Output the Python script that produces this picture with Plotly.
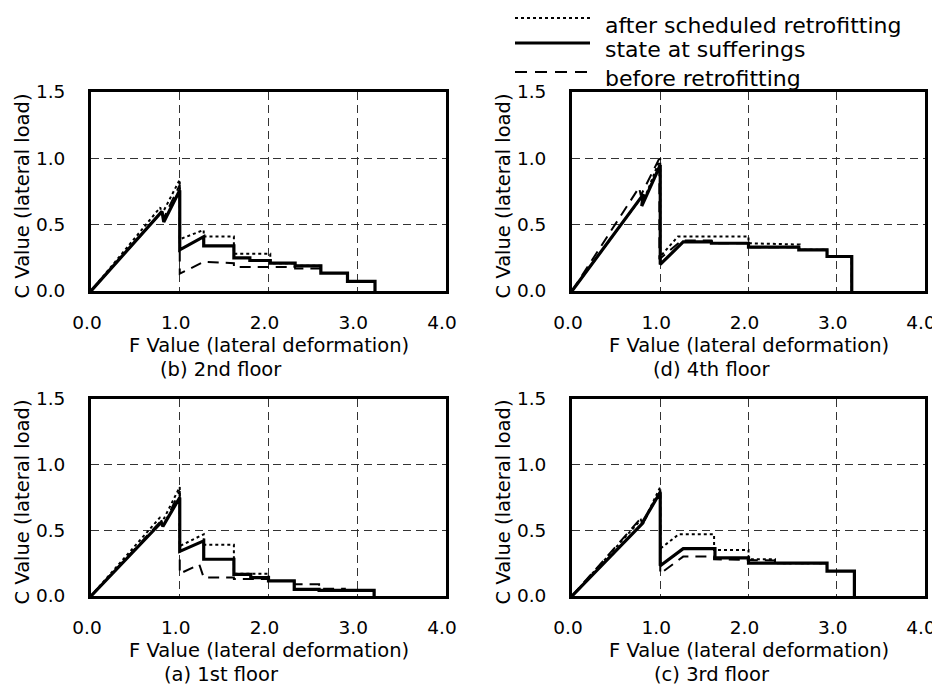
import plotly.graph_objects as go

# ---------------- data (F value, C value) ----------------
series_names = ["after scheduled retrofitting", "state at sufferings", "before retrofitting"]
panel_titles = ["(b) 2nd floor", "(d) 4th floor", "(a) 1st floor", "(c) 3rd floor"]
x_ticks = [0, 1, 2, 3, 4]
x_tick_labels = ["0.0", "1.0", "2.0", "3.0", "4.0"]
y_ticks = [0, 0.5, 1.0, 1.5]
y_tick_labels = ["0.0", "0.5", "1.0", "1.5"]

# (b) 2nd floor
f2_after_x = [0, 0.78, 0.80, 1.0, 1.0, 1.27, 1.27, 1.61, 1.61, 2.02, 2.02, 2.30, 2.30, 2.59, 2.59, 2.89, 2.89, 3.20, 3.20]
f2_after_y = [0, 0.63, 0.58, 0.84, 0.39, 0.46, 0.41, 0.41, 0.28, 0.28, 0.21, 0.21, 0.19, 0.19, 0.135, 0.135, 0.073, 0.073, 0]
f2_state_x = [0, 0.80, 0.82, 1.0, 1.0, 1.27, 1.27, 1.61, 1.61, 1.79, 1.79, 2.02, 2.02, 2.30, 2.30, 2.59, 2.59, 2.89, 2.89, 3.20, 3.20]
f2_state_y = [0, 0.60, 0.52, 0.76, 0.31, 0.41, 0.34, 0.34, 0.25, 0.25, 0.23, 0.23, 0.21, 0.21, 0.19, 0.19, 0.135, 0.135, 0.073, 0.073, 0]
f2_before_x = [0, 0.80, 0.82, 1.0, 1.0, 1.27, 1.61, 1.61, 2.30, 2.30, 2.59, 2.59, 2.89, 2.89, 3.20, 3.20]
f2_before_y = [0, 0.60, 0.55, 0.80, 0.13, 0.22, 0.21, 0.18, 0.18, 0.17, 0.17, 0.135, 0.135, 0.073, 0.073, 0]

# (d) 4th floor
f4_after_x = [0, 0.78, 0.80, 1.0, 1.0, 1.20, 2.0, 2.0, 2.58, 2.58, 2.89, 2.89, 3.17, 3.17]
f4_after_y = [0, 0.70, 0.66, 1.0, 0.26, 0.41, 0.41, 0.36, 0.35, 0.31, 0.31, 0.26, 0.26, 0]
f4_state_x = [0, 0.81, 0.79, 1.0, 1.0, 1.26, 1.58, 1.58, 2.0, 2.0, 2.57, 2.57, 2.89, 2.89, 3.17, 3.17]
f4_state_y = [0, 0.73, 0.64, 0.95, 0.20, 0.37, 0.37, 0.36, 0.36, 0.33, 0.33, 0.31, 0.31, 0.26, 0.26, 0]
f4_before_x = [0, 0.76, 0.78, 0.99, 0.99, 1.24, 1.58, 1.58, 2.0, 2.0, 2.58, 2.58, 2.89, 2.89, 3.17, 3.17]
f4_before_y = [0, 0.78, 0.72, 1.0, 0.24, 0.38, 0.38, 0.36, 0.36, 0.33, 0.33, 0.31, 0.31, 0.26, 0.26, 0]

# (a) 1st floor
f1_after_x = [0, 0.78, 0.80, 1.0, 1.0, 1.27, 1.27, 1.61, 1.61, 2.0, 2.0, 2.29, 2.29, 2.57, 2.57, 3.19, 3.19]
f1_after_y = [0, 0.60, 0.56, 0.83, 0.38, 0.47, 0.39, 0.39, 0.17, 0.17, 0.115, 0.115, 0.05, 0.05, 0.043, 0.043, 0]
f1_state_x = [0, 0.79, 0.81, 1.0, 1.0, 1.27, 1.27, 1.61, 1.61, 1.80, 1.80, 2.0, 2.0, 2.29, 2.29, 2.57, 2.57, 3.19, 3.19]
f1_state_y = [0, 0.56, 0.53, 0.75, 0.34, 0.42, 0.28, 0.28, 0.165, 0.165, 0.14, 0.14, 0.115, 0.115, 0.05, 0.05, 0.043, 0.043, 0]
f1_before_x = [0, 0.80, 0.82, 1.0, 1.0, 1.22, 1.27, 1.61, 1.61, 2.0, 2.0, 2.29, 2.29, 2.57, 2.57, 2.86, 2.86, 3.19, 3.19]
f1_before_y = [0, 0.58, 0.54, 0.80, 0.17, 0.24, 0.14, 0.14, 0.13, 0.13, 0.115, 0.115, 0.09, 0.09, 0.056, 0.056, 0.043, 0.043, 0]

# (c) 3rd floor
f3_after_x = [0, 0.78, 0.80, 1.0, 1.0, 1.21, 1.61, 1.61, 2.0, 2.0, 2.30, 2.30, 2.89, 2.89, 3.20, 3.20]
f3_after_y = [0, 0.58, 0.55, 0.83, 0.36, 0.47, 0.47, 0.35, 0.35, 0.28, 0.28, 0.25, 0.25, 0.19, 0.19, 0]
f3_state_x = [0, 0.81, 0.79, 1.0, 1.0, 1.26, 1.62, 1.62, 2.0, 2.0, 2.89, 2.89, 3.20, 3.20]
f3_state_y = [0, 0.56, 0.55, 0.79, 0.23, 0.36, 0.36, 0.29, 0.29, 0.25, 0.25, 0.19, 0.19, 0]
f3_before_x = [0, 0.79, 0.81, 1.0, 1.0, 1.26, 1.61, 1.61, 2.30, 2.30, 2.89, 2.89, 3.20, 3.20]
f3_before_y = [0, 0.60, 0.56, 0.80, 0.17, 0.30, 0.30, 0.28, 0.27, 0.25, 0.25, 0.19, 0.19, 0]

panels = [
    (f2_after_x, f2_after_y, f2_state_x, f2_state_y, f2_before_x, f2_before_y),
    (f4_after_x, f4_after_y, f4_state_x, f4_state_y, f4_before_x, f4_before_y),
    (f1_after_x, f1_after_y, f1_state_x, f1_state_y, f1_before_x, f1_before_y),
    (f3_after_x, f3_after_y, f3_state_x, f3_state_y, f3_before_x, f3_before_y),
]

# page body has an 8px default margin: size the figure so it fills the window
OFF = 8
W, H = 940 - OFF, 692 - OFF
FONT = "DejaVu Sans"
FS = 19.5
TICK_FS = 18.5

# panel boxes in window pixels: (left, right, top, bottom)
boxes = [(91, 446, 92, 291), (572, 925, 92, 291), (91, 446, 399, 596), (572, 925, 399, 596)]

def px(x):
    return (x - OFF) / W

def py(y):
    return 1 - (y - OFF) / H

styles = [
    dict(color="black", width=2, dash="3px,3px"),
    dict(color="black", width=3.2, dash="solid"),
    dict(color="black", width=2, dash="11px,7px"),
]

fig = go.Figure()
for i, p in enumerate(panels):
    xa = "x" if i == 0 else f"x{i+1}"
    ya = "y" if i == 0 else f"y{i+1}"
    for k in [0, 2, 1]:
        fig.add_trace(go.Scatter(
            x=p[2 * k], y=p[2 * k + 1], mode="lines", name=series_names[k],
            line=styles[k], xaxis=xa, yaxis=ya, showlegend=False,
            hoverinfo="skip"))

layout = dict(
    width=W, height=H, margin=dict(l=0, r=0, t=0, b=0, autoexpand=False),
    paper_bgcolor="white", plot_bgcolor="white",
    font=dict(family=FONT, size=FS, color="black"),
    showlegend=False,
)
annotations = []
shapes = []
for i, (l, r, t, b) in enumerate(boxes):
    sx = "" if i == 0 else str(i + 1)
    layout[f"xaxis{sx}"] = dict(
        domain=[px(l), px(r)], anchor=f"y{sx}", range=[0, 4], fixedrange=True,
        automargin=False,
        tickvals=x_ticks, ticktext=x_tick_labels, ticks="", ticklabelstandoff=13,
        ticklabelshift=-4,
        showline=True, linewidth=3, linecolor="black", mirror=True,
        showgrid=True, gridcolor="#333333", gridwidth=1, griddash="8px,5px",
        zeroline=False, tickfont=dict(family=FONT, size=TICK_FS, color="black"))
    layout[f"yaxis{sx}"] = dict(
        domain=[py(b), py(t)], anchor=f"x{sx}", range=[0, 1.5], fixedrange=True,
        automargin=False,
        tickvals=y_ticks, ticktext=y_tick_labels, ticks="", ticklabelstandoff=19,
        showline=True, linewidth=3, linecolor="black", mirror=True,
        showgrid=True, gridcolor="#333333", gridwidth=1, griddash="8px,5px",
        zeroline=False, tickfont=dict(family=FONT, size=TICK_FS, color="black"))
    # x-axis title
    annotations.append(dict(text="F Value (lateral deformation)", xref="paper", yref="paper",
                            x=px((l + r) / 2), y=py(b + 54), xanchor="center", yanchor="middle",
                            showarrow=False, font=dict(family=FONT, size=FS)))
    # panel subtitle
    annotations.append(dict(text=panel_titles[i], xref="paper", yref="paper",
                            x=px(l + 130 if i % 2 == 0 else l + 140), y=py(b + 78),
                            xanchor="center", yanchor="middle",
                            showarrow=False, font=dict(family=FONT, size=FS)))
    # y-axis title
    annotations.append(dict(text="C Value (lateral load)", xref="paper", yref="paper",
                            x=px(l - 69), y=py((t + b) / 2 + 5), xanchor="center", yanchor="middle",
                            textangle=-90, showarrow=False, font=dict(family=FONT, size=FS)))

# legend (drawn manually)
leg_y = [18, 43, 72]
for k in range(3):
    shapes.append(dict(type="line", xref="paper", yref="paper",
                       x0=px(515), x1=px(590), y0=py(leg_y[k]), y1=py(leg_y[k]),
                       line=dict(color="black", width=styles[k]["width"] if k != 0 else 2,
                                 dash=styles[k]["dash"] if k != 2 else "12px,8px")))
    annotations.append(dict(text=series_names[k], xref="paper", yref="paper",
                            x=px(603), y=py(leg_y[k] + 7), xanchor="left", yanchor="middle",
                            showarrow=False, font=dict(family=FONT, size=22)))

layout["annotations"] = annotations
layout["shapes"] = shapes
fig.update_layout(**layout)
fig.write_html("out.html")
